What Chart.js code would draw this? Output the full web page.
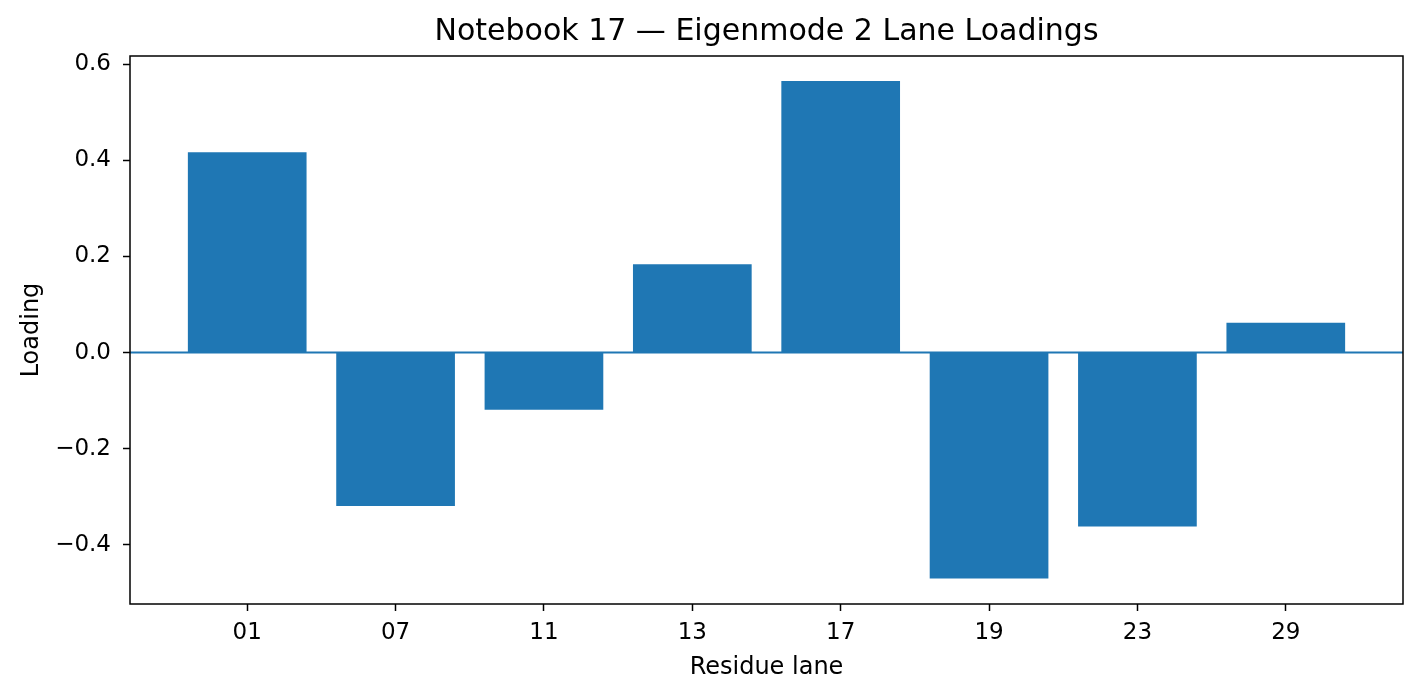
<!DOCTYPE html>
<html>
<head>
<meta charset="utf-8">
<script src="https://cdn.jsdelivr.net/npm/chart.js@4/dist/chart.umd.min.js"></script>
<style>
  html, body { margin: 0; padding: 0; background: #fff; }
  #wrap { width: 1421px; height: 697px; }
</style>
</head>
<body>
<div id="wrap"><canvas id="grafico" width="1421" height="697"></canvas></div>
<script>
// datos
const lanes = ["01", "07", "11", "13", "17", "19", "23", "29"];
const loadings = [0.417, -0.319, -0.119, 0.184, 0.565, -0.470, -0.362, 0.062];
const yTicks = [-0.4, -0.2, 0.0, 0.2, 0.4, 0.6];
const yMin = -0.523;
const yMax = 0.617;
const titulo = "Notebook 17 \u2014 Eigenmode 2 Lane Loadings";

const azul = "#1f77b4";
const fuente = "'DejaVu Sans', sans-serif";

// marco completo, linea en cero y titulo centrado sobre el area del grafico
const marco = {
  id: "marco",
  beforeDatasetsDraw(chart) {
    const { ctx, scales: { y }, chartArea: a } = chart;
    const y0 = y.getPixelForValue(0);
    ctx.save();
    ctx.strokeStyle = azul;
    ctx.lineWidth = 2;
    ctx.beginPath();
    ctx.moveTo(a.left, y0);
    ctx.lineTo(a.right, y0);
    ctx.stroke();
    ctx.restore();
  },
  afterDraw(chart) {
    const { ctx, chartArea: a } = chart;
    ctx.save();
    ctx.strokeStyle = "#000";
    ctx.lineWidth = 1.5;
    ctx.strokeRect(a.left, a.top, a.right - a.left, a.bottom - a.top);
    ctx.fillStyle = "#000";
    ctx.font = "30px " + fuente;
    ctx.textAlign = "center";
    ctx.textBaseline = "middle";
    ctx.fillText(titulo, (a.left + a.right) / 2, 32);
    ctx.restore();
  }
};

const fmt = v => {
  const s = Math.abs(v).toFixed(1);
  return v < -1e-9 ? "\u2212" + s : s;
};

new Chart(document.getElementById("grafico"), {
  type: "bar",
  data: {
    datasets: [{
      label: "Loading",
      data: loadings.map((v, i) => ({ x: i, y: v })),
      backgroundColor: azul,
      borderWidth: 0,
      barPercentage: 0.8,
      categoryPercentage: 1.0
    }]
  },
  options: {
    responsive: false,
    animation: false,
    layout: { padding: { left: 0, right: 18, top: 56, bottom: 0 } },
    plugins: {
      legend: { display: false },
      tooltip: { enabled: false },
      title: { display: false }
    },
    scales: {
      x: {
        type: "linear",
        min: -0.79,
        max: 7.79,
        offset: false,
        afterBuildTicks: s => { s.ticks = lanes.map((_, i) => ({ value: i })); },
        afterFit: s => { s.height = 93; },
        ticks: {
          callback: v => lanes[v],
          color: "#000",
          font: { family: fuente, size: 23 },
          padding: 8,
          maxRotation: 0,
          autoSkip: false
        },
        grid: {
          display: true,
          offset: false,
          drawOnChartArea: false,
          drawTicks: true,
          tickLength: 7,
          tickWidth: 1.5,
          tickColor: "#000"
        },
        border: { display: false },
        title: {
          display: true,
          text: "Residue lane",
          color: "#000",
          font: { family: fuente, size: 24 },
          padding: { top: 4, bottom: 15 }
        }
      },
      y: {
        min: yMin,
        max: yMax,
        afterBuildTicks: s => { s.ticks = yTicks.map(v => ({ value: v })); },
        afterFit: s => { s.width = 130; },
        ticks: {
          callback: v => fmt(v),
          color: "#000",
          font: { family: fuente, size: 23 },
          padding: 12
        },
        grid: {
          display: true,
          drawOnChartArea: false,
          drawTicks: true,
          tickLength: 7,
          tickWidth: 1.5,
          tickColor: "#000"
        },
        border: { display: false },
        title: {
          display: true,
          text: "Loading",
          color: "#000",
          font: { family: fuente, size: 24 },
          padding: { top: 17, bottom: 0 }
        }
      }
    }
  },
  plugins: [marco]
});
</script>
</body>
</html>
